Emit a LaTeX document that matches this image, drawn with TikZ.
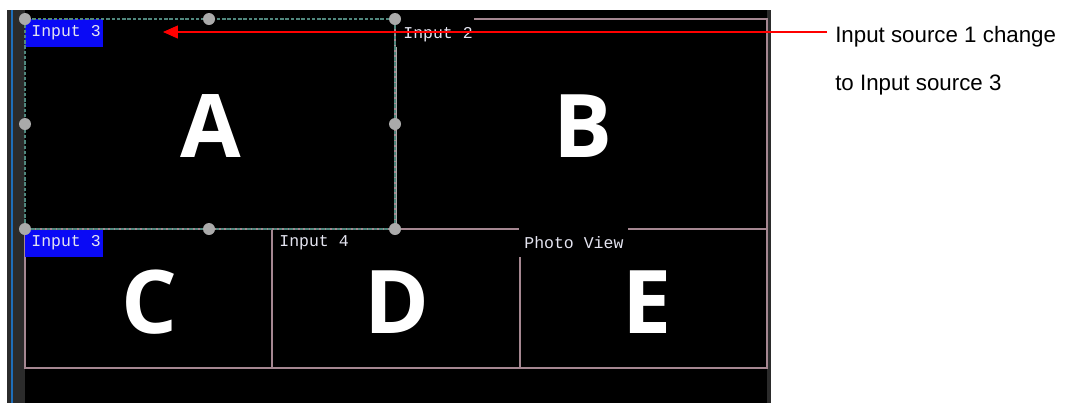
\documentclass[tikz,border=0pt]{standalone}
\usepackage{fontspec}
\setmainfont{Liberation Sans}
\newfontfamily\bigfont{Open Sans}
\newfontfamily\osdfont{Liberation Mono}
\usepackage{tikz}
\usetikzlibrary{arrows.meta,positioning}
\definecolor{winline}{RGB}{165,135,145}
\definecolor{selline}{RGB}{80,135,125}
\definecolor{handlegray}{RGB}{170,170,170}
\definecolor{osdblue}{RGB}{10,10,245}
\definecolor{framegray}{RGB}{43,43,43}
\definecolor{framestripe}{RGB}{30,110,185}
\definecolor{osdtext}{RGB}{228,228,240}

\begin{document}
\begin{tikzpicture}[x=0.02cm, y=-0.02cm,
  win/.style={draw=winline, line width=0.7pt},
  selwin/.style={draw=selline, line width=0.7pt, dashed, dash pattern=on 2pt off 1pt},
  handle/.style={fill=handlegray},
  osd/.style={font=\osdfont\fontsize{9.4}{10}\selectfont, text=osdtext, anchor=west, inner sep=0pt},
  letter/.style={font=\bigfont\bfseries\fontsize{50}{50}\selectfont, text=white, inner sep=0pt},
  note/.style={font=\fontsize{12.7}{15}\selectfont, anchor=base west, inner xsep=4.5pt, inner ysep=0pt},
  arrow/.style={-{Triangle[length=8.5pt,width=7.4pt]}, red, line width=0.6pt}
]
% canvas and screen frame
\fill[white] (0,0) rectangle (1077,403);
\useasboundingbox (0,0) rectangle (1077,403);
\fill[framegray] (7,10) rectangle (771,403);
\fill[framestripe] (11,10) rectangle (13,403);
\fill[black] (25,10) rectangle (767,403);

% window borders
\draw[win] (395,19) rectangle (767,229);
\draw[win] (25,229) rectangle (272,368);
\draw[win] (272,229) rectangle (520,368);
\draw[win] (520,229) rectangle (767,368);

% label boxes
\fill[osdblue] (25,19) rectangle (103,47);
\fill[black] (396,17.5) rectangle (474,47);
\fill[osdblue] (25,230) rectangle (103,257);
\fill[black] (273,230) rectangle (350,257);
\fill[black] (519,227.5) rectangle (628,257);
\draw[handlegray, line width=1pt] (396.5,47) -- (396.5,229);
\draw[selwin] (25,19) rectangle (395,229);

\node[osd] (labA) at (31,33) {Input 3};
\node[osd] (labB) at (403,35) {Input 2};
\node[osd] (labC) at (31,243) {Input 3};
\node[osd] (labD) at (279,243) {Input 4};
\node[osd] (labE) at (524,243) {Photo View};

% selection handles
\foreach \hx/\hy in {25/19, 209/19, 395/19, 25/124, 395/124, 25/229, 209/229, 395/229}
  \fill[handle] (\hx,\hy) circle (6);

% window letters
\node[letter] (letA) at (211,126) {A};
\node[letter] (letB) at (583,126) {B};
\node[letter] (letC) at (149,302) {C};
\node[letter] (letD) at (397,302) {D};
\node[letter] (letE) at (647,302) {E};

% annotation
\node[note] (note1) at (827,42) {Input source 1 change};
\node[note] (note2) at (827,90) {to Input source 3};
\coordinate (tip) at (163,32);
\draw[arrow] (note1.west |- tip) -- (tip);
\end{tikzpicture}
\end{document}
